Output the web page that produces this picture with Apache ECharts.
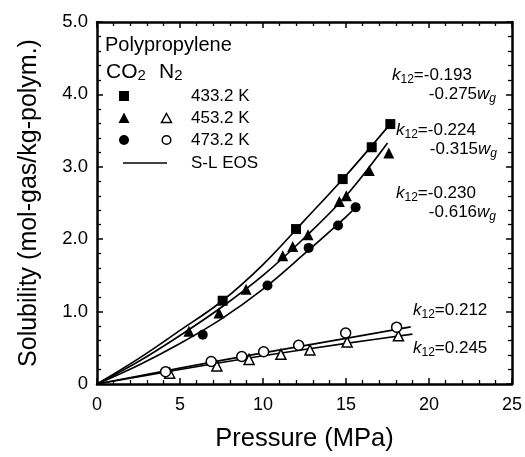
<!DOCTYPE html>
<html><head><meta charset="utf-8">
<script src="https://cdn.jsdelivr.net/npm/echarts@6/dist/echarts.min.js"></script>
<style>html,body{margin:0;padding:0;background:#fff}#c{width:525px;height:457px}</style>
</head><body><div id="c"></div>
<script>
const FONT = '"Liberation Sans", Arial, Helvetica, sans-serif';

// tick labels
const yTickLabels = ['0', '1.0', '2.0', '3.0', '4.0', '5.0'];
const xTickLabels = ['0', '5', '10', '15', '20', '25'];

// CO2 experimental data (pressure MPa, solubility mol/kg)
const co2_433_P = [7.57, 11.99, 14.8, 16.55, 17.67];
const co2_433_S = [1.15, 2.14, 2.83, 3.27, 3.59];
const co2_453_P = [5.54, 7.35, 8.98, 11.19, 11.79, 12.71, 14.6, 15.02, 16.4, 17.58];
const co2_453_S = [0.73, 0.98, 1.31, 1.77, 1.90, 2.06, 2.52, 2.60, 2.95, 3.19];
const co2_473_P = [6.37, 10.27, 12.75, 14.52, 15.58];
const co2_473_S = [0.68, 1.36, 1.88, 2.19, 2.44];

// N2 experimental data
const n2_453_P = [4.38, 7.22, 9.16, 11.08, 12.83, 15.07, 18.16];
const n2_453_S = [0.15, 0.25, 0.34, 0.41, 0.47, 0.58, 0.665];
const n2_473_P = [4.13, 6.88, 8.72, 10.04, 12.15, 14.98, 18.05];
const n2_473_S = [0.17, 0.31, 0.38, 0.445, 0.535, 0.705, 0.785];

// S-L EOS correlation curves
const eos_433_P = [0, 2.5, 5, 7.5, 10, 12.5, 15, 17.7];
const eos_433_S = [0, 0.35, 0.74, 1.14, 1.65, 2.26, 2.88, 3.60];
const eos_453_P = [0, 2.5, 5, 7.5, 10, 12.5, 15, 17.5];
const eos_453_S = [0, 0.31, 0.67, 1.06, 1.50, 2.02, 2.60, 3.33];
const eos_473_P = [0, 2.5, 5, 7.5, 10, 12.5, 15, 15.8];
const eos_473_S = [0, 0.26, 0.56, 0.90, 1.31, 1.80, 2.31, 2.49];
const eos_n2_473_P = [0, 5, 10, 15, 18.9];
const eos_n2_473_S = [0, 0.22, 0.43, 0.63, 0.79];
const eos_n2_453_P = [0, 5, 10, 15, 19.0];
const eos_n2_453_S = [0, 0.20, 0.39, 0.56, 0.69];

const pairs = (P, S) => P.map((p, i) => [p, S[i]]);

const lineSeries = (P, S) => ({
  type: 'line', data: pairs(P, S), showSymbol: false, symbol: 'none',
  smooth: 0.35,
  lineStyle: { color: '#000', width: 1.7 }, z: 2, silent: true
});
const scatterSeries = (P, S, symbol, size, open) => ({
  type: 'scatter', data: pairs(P, S), symbol: symbol, symbolSize: size,
  itemStyle: open ? { color: '#fff', borderColor: '#000', borderWidth: 1.5, opacity: 1 }
                  : { color: '#000', opacity: 1 },
  z: 5, silent: true
});

const axisLine = { show: true, onZero: false, lineStyle: { color: '#000', width: 2.5 } };
const tick = { show: true, inside: true, length: 6, lineStyle: { color: '#000', width: 1.5 } };
const minor = (n) => ({ show: true, splitNumber: n, length: 4, lineStyle: { color: '#000', width: 1.3 } });

const sub = { fontSize: 12, fontFamily: FONT, fill: '#000', verticalAlign: 'bottom', lineHeight: 12 };
const richK = {
  i: { fontSize: 17, fontStyle: 'italic', fontFamily: FONT, lineHeight: 22, fill: '#000' },
  n: { fontSize: 17, fontFamily: FONT, lineHeight: 22, fill: '#000' },
  s: sub,
  si: Object.assign({}, sub, { fontStyle: 'italic' })
};
const txt = (x, y, text, align) => ({
  type: 'text', x: x, y: y, z: 10, silent: true,
  style: { text: text, rich: richK, align: align || 'left', verticalAlign: 'middle', fill: '#000' }
});
const plain = (x, y, text, size) => ({
  type: 'text', x: x, y: y, z: 10, silent: true,
  style: { text: text, fontSize: size, fontFamily: FONT, fill: '#000', align: 'left', verticalAlign: 'middle' }
});
const subRich = {
  m: { fontSize: 21, fontFamily: FONT, lineHeight: 22, fill: '#000' },
  c: { fontSize: 15, fontFamily: FONT, lineHeight: 18, verticalAlign: 'bottom', fill: '#000' }
};

const chart = echarts.init(document.getElementById('c'), null, { renderer: 'canvas' });
chart.setOption({
  backgroundColor: '#fff',
  animation: false,
  textStyle: { fontFamily: FONT, color: '#000' },
  grid: { left: 97, right: 13, top: 22, bottom: 69, containLabel: false },
  xAxis: [{
    type: 'value', min: 0, max: 25, interval: 5,
    name: 'Pressure (MPa)', nameLocation: 'middle', nameGap: 42,
    nameTextStyle: { fontSize: 25.5, fontFamily: FONT, color: '#000' },
    axisLine: axisLine, axisTick: tick, minorTick: minor(5), splitLine: { show: false },
    axisLabel: { fontSize: 18, fontFamily: FONT, color: '#000', margin: 12,
      formatter: (v) => xTickLabels[Math.round(v / 5)] }
  }, {
    type: 'value', min: 0, max: 25, interval: 5, position: 'top',
    axisLine: axisLine, axisTick: tick, minorTick: minor(5), splitLine: { show: false },
    axisLabel: { show: false }
  }],
  yAxis: [{
    type: 'value', min: 0, max: 5, interval: 1,
    name: 'Solubility (mol-gas/kg-polym.)', nameLocation: 'middle', nameGap: 55,
    nameTextStyle: { fontSize: 25, fontFamily: FONT, color: '#000' },
    axisLine: axisLine, axisTick: tick, minorTick: minor(5), splitLine: { show: false },
    axisLabel: { fontSize: 18.5, fontFamily: FONT, color: '#000', margin: 9,
      formatter: (v) => yTickLabels[Math.round(v)] }
  }, {
    type: 'value', min: 0, max: 5, interval: 1, position: 'right',
    axisLine: axisLine, axisTick: tick, minorTick: minor(5), splitLine: { show: false },
    axisLabel: { show: false }
  }],
  series: [
    lineSeries(eos_433_P, eos_433_S),
    lineSeries(eos_453_P, eos_453_S),
    lineSeries(eos_473_P, eos_473_S),
    lineSeries(eos_n2_473_P, eos_n2_473_S),
    lineSeries(eos_n2_453_P, eos_n2_453_S),
    scatterSeries(co2_433_P, co2_433_S, 'rect', 10, false),
    scatterSeries(co2_453_P, co2_453_S, 'triangle', 11, false),
    scatterSeries(co2_473_P, co2_473_S, 'circle', 10, false),
    scatterSeries(n2_453_P, n2_453_S, 'triangle', 10, true),
    scatterSeries(n2_473_P, n2_473_S, 'circle', 10, true)
  ],
  graphic: [
    plain(105, 45, 'Polypropylene', 20),
    { type: 'text', x: 106, y: 72, z: 10, silent: true,
      style: { text: '{m|CO}{c|2}', align: 'left', verticalAlign: 'middle', rich: subRich } },
    { type: 'text', x: 159, y: 72, z: 10, silent: true,
      style: { text: '{m|N}{c|2}', align: 'left', verticalAlign: 'middle', rich: subRich } },
    { type: 'rect', shape: { x: 119, y: 91, width: 10, height: 10 }, style: { fill: '#000' }, z: 10, silent: true },
    { type: 'polygon', shape: { points: [[124, 112.5], [129.5, 123], [118.5, 123]] }, style: { fill: '#000' }, z: 10, silent: true },
    { type: 'circle', shape: { cx: 124, cy: 140, r: 5 }, style: { fill: '#000' }, z: 10, silent: true },
    { type: 'polygon', shape: { points: [[166.5, 113.5], [171.5, 122.5], [161.5, 122.5]] }, style: { fill: '#fff', stroke: '#000', lineWidth: 1.5 }, z: 10, silent: true },
    { type: 'circle', shape: { cx: 166.5, cy: 140, r: 4.3 }, style: { fill: '#fff', stroke: '#000', lineWidth: 1.5 }, z: 10, silent: true },
    { type: 'line', shape: { x1: 123, y1: 163, x2: 167, y2: 163 }, style: { stroke: '#000', lineWidth: 1.7 }, z: 10, silent: true },
    plain(191, 96, '433.2 K', 17),
    plain(191, 118, '453.2 K', 17),
    plain(191, 140, '473.2 K', 17),
    plain(191, 163, 'S-L EOS', 17),
    txt(392, 75, '{i|k}{s|12}{n|=-0.193}'),
    txt(496, 94, '{n|-0.275}{i|w}{si|g}', 'right'),
    txt(396, 130, '{i|k}{s|12}{n|=-0.224}'),
    txt(497, 149, '{n|-0.315}{i|w}{si|g}', 'right'),
    txt(396, 193, '{i|k}{s|12}{n|=-0.230}'),
    txt(496, 212, '{n|-0.616}{i|w}{si|g}', 'right'),
    txt(413, 310, '{i|k}{s|12}{n|=0.212}'),
    txt(413, 348, '{i|k}{s|12}{n|=0.245}')
  ]
});
</script>
</body></html>
